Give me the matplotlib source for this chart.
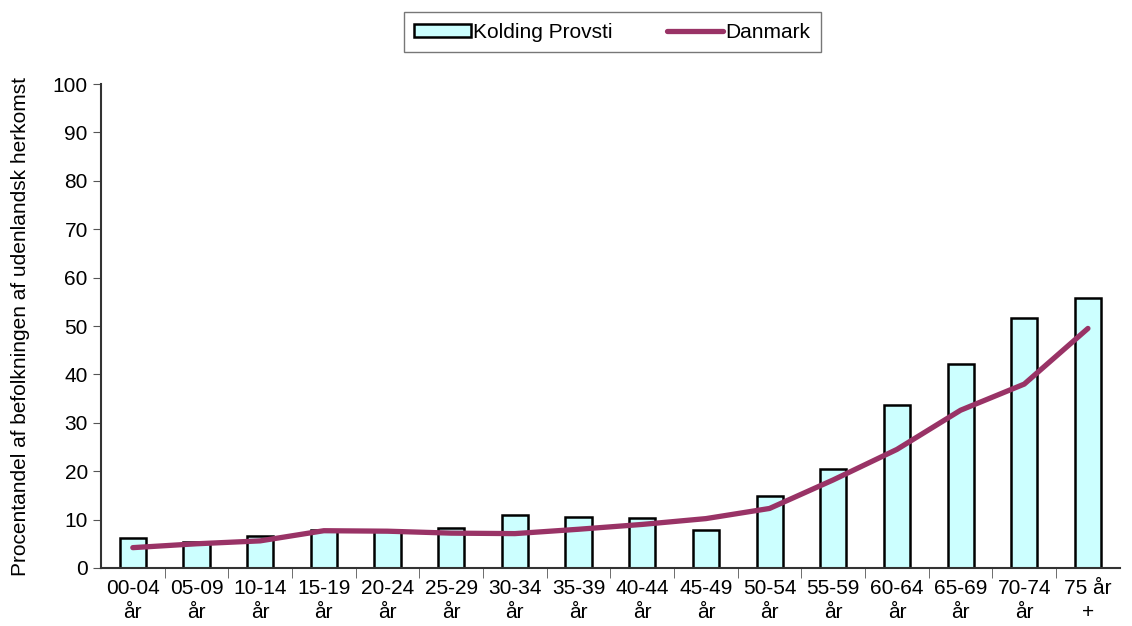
import numpy as np
import matplotlib.pyplot as plt

plt.rcParams['font.family'] = ['Liberation Sans', 'DejaVu Sans']

categories = ['00-04\når', '05-09\når', '10-14\når', '15-19\når', '20-24\når', '25-29\når',
              '30-34\når', '35-39\når', '40-44\når', '45-49\når', '50-54\når', '55-59\når',
              '60-64\når', '65-69\når', '70-74\når', '75 år\n+']
kolding = [6.2, 5.4, 6.6, 7.8, 7.8, 8.3, 11.0, 10.5, 10.3, 7.8, 14.9, 20.5, 33.7, 42.1, 51.6, 55.7]
danmark = [4.2, 5.0, 5.6, 7.7, 7.6, 7.2, 7.1, 8.0, 9.0, 10.2, 12.3, 18.2, 24.5, 32.6, 38.0, 49.5]

x = np.arange(len(categories))

fig = plt.figure(figsize=(11.32, 6.26), dpi=100)
ax = fig.add_axes([0.0892, 0.0927, 0.9, 0.773])

bars = ax.bar(x, kolding, width=0.41, color='#CCFFFF', edgecolor='black', linewidth=1.8,
              label='Kolding Provsti', zorder=2)
line, = ax.plot(x, danmark, color='#993366', linewidth=3.8, label='Danmark', zorder=3,
                solid_capstyle='round')

ax.set_xlim(-0.5, len(categories) - 0.5)
ax.set_ylim(0, 100)
ax.set_yticks(range(0, 101, 10))
ax.set_xticks(x)
ax.set_xticklabels(categories, fontsize=15, linespacing=1.35)
# ticks between the categories, like the original
ax.set_xticks(np.arange(0.5, len(categories) - 0.5, 1), minor=True)
ax.tick_params(axis='x', which='major', length=0, pad=8)
ax.tick_params(axis='x', which='minor', length=7, color='#555555')
ax.tick_params(axis='y', labelsize=15, length=6, color='#555555')
ax.spines['top'].set_visible(False)
ax.spines['right'].set_visible(False)
ax.spines['left'].set_linewidth(1.5)
ax.spines['bottom'].set_linewidth(1.5)
ax.spines['left'].set_color('#333333')
ax.spines['bottom'].set_color('#333333')
ax.set_ylabel('Procentandel af befolkningen af udenlandsk herkomst', fontsize=15, labelpad=16)

leg = fig.legend([bars, line], ['Kolding Provsti', 'Danmark'], loc='center',
                 bbox_to_anchor=(0.541, 0.9485), ncol=2, fontsize=15,
                 frameon=True, fancybox=False, edgecolor='#555555', handlelength=2.7,
                 handleheight=0.55, handletextpad=0.12, columnspacing=2.6, borderpad=0.5,
                 borderaxespad=0)
leg.get_frame().set_linewidth(1.0)

fig.savefig('out.png', dpi=100)
